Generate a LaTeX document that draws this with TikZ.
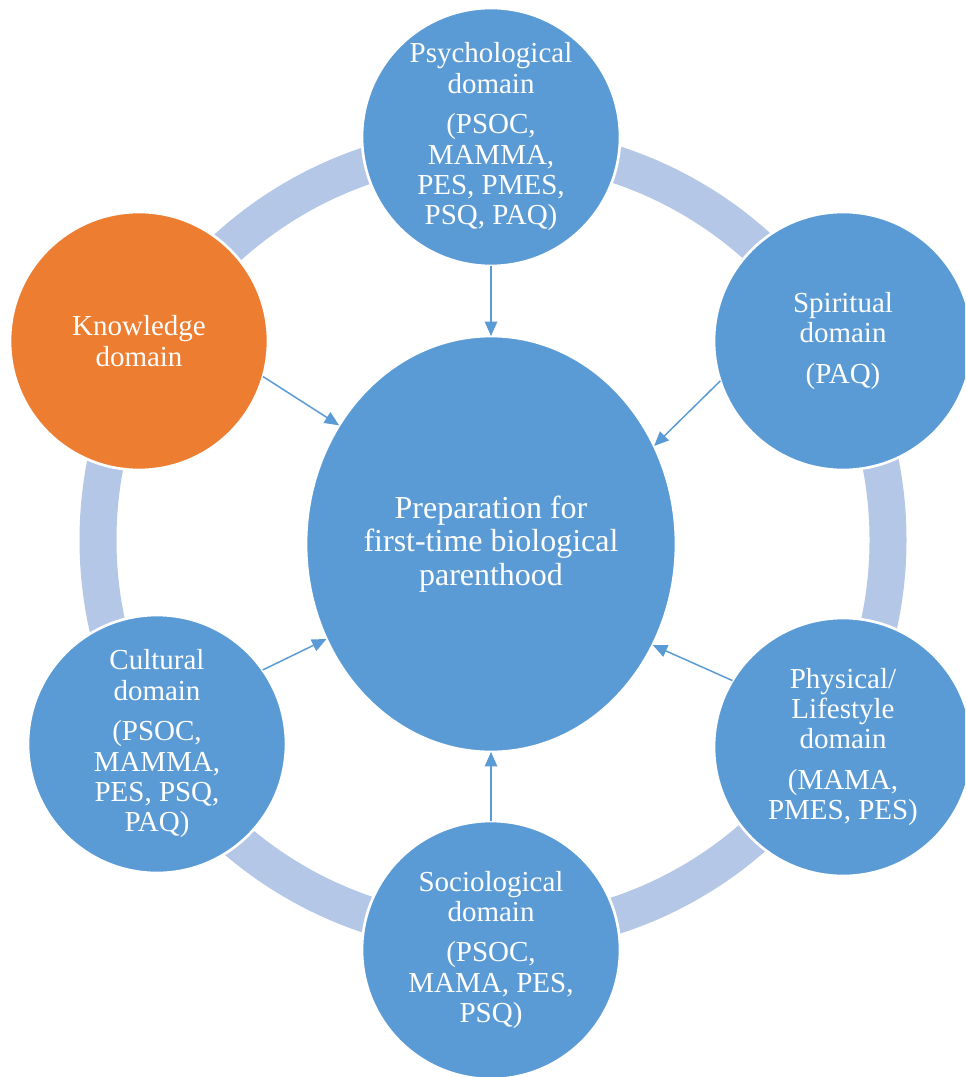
\documentclass[tikz,border=0pt]{standalone}
\usepackage{fontspec}
\setmainfont{Liberation Serif}
\usetikzlibrary{shapes.geometric,arrows.meta}
\definecolor{domblue}{HTML}{5B9BD5}
\definecolor{domorange}{HTML}{ED7D31}
\definecolor{ringblue}{HTML}{B4C7E7}
\tikzset{
  dom/.style={circle, fill=domblue, draw=white, line width=1.5pt,
    minimum size=5.16cm, inner sep=0pt, outer sep=0pt, text=white,
    align=center, font=\fontsize{16.5}{17.3}\selectfont},
  hub/.style={ellipse, fill=domblue, draw=white, line width=1.5pt,
    minimum width=7.4cm, minimum height=8.32cm, inner sep=0pt, outer sep=0pt,
    text=white, align=center, font=\fontsize{18.2}{19.1}\selectfont},
  ringband/.style={draw=ringblue, line width=0.74cm},
  feed/.style={draw=domblue, line width=0.85pt,
    -{Triangle[length=0.29cm, width=0.25cm]}}
}
\begin{document}
\begin{tikzpicture}[x=0.02cm, y=-0.02cm]
  \useasboundingbox (0,0) rectangle (965,1077);
  \clip (0,0) rectangle (965,1077);
  % connecting ring behind the domain circles
  \draw[ringband] (493,540) circle[radius=395];
  % central hub
  \node[hub] (hub) at (491,544) {Preparation for\\first-time biological\\parenthood};
  % domains
  \node[dom] (psych) at (491,137)
    {Psychological\\domain\\[0.2cm](PSOC,\\MAMMA,\\PES, PMES,\\PSQ, PAQ)};
  \node[dom] (spirit) at (843,341) {Spiritual\\domain\\[0.2cm](PAQ)};
  \node[dom] (phys) at (843,747)
    {Physical/\\Lifestyle\\domain\\[0.2cm](MAMA,\\PMES, PES)};
  \node[dom] (socio) at (491,950)
    {Sociological\\domain\\[0.2cm](PSOC,\\MAMA, PES,\\PSQ)};
  \node[dom] (cult) at (157,744)
    {Cultural\\domain\\[0.2cm](PSOC,\\MAMMA,\\PES, PSQ,\\PAQ)};
  \node[dom, fill=domorange] (know) at (139,341) {Knowledge\\domain};
  % arrows into the hub
  \draw[feed] (psych.south) -- (hub.north);
  \draw[feed] (socio.north) -- (hub.south);
  \draw[feed] (know.-16) -- (hub.142);
  \draw[feed] (spirit.198) -- (hub.31);
  \draw[feed] (phys.149) -- (hub.-32);
  \draw[feed] (cult.35) -- (hub.210);
\end{tikzpicture}
\end{document}
